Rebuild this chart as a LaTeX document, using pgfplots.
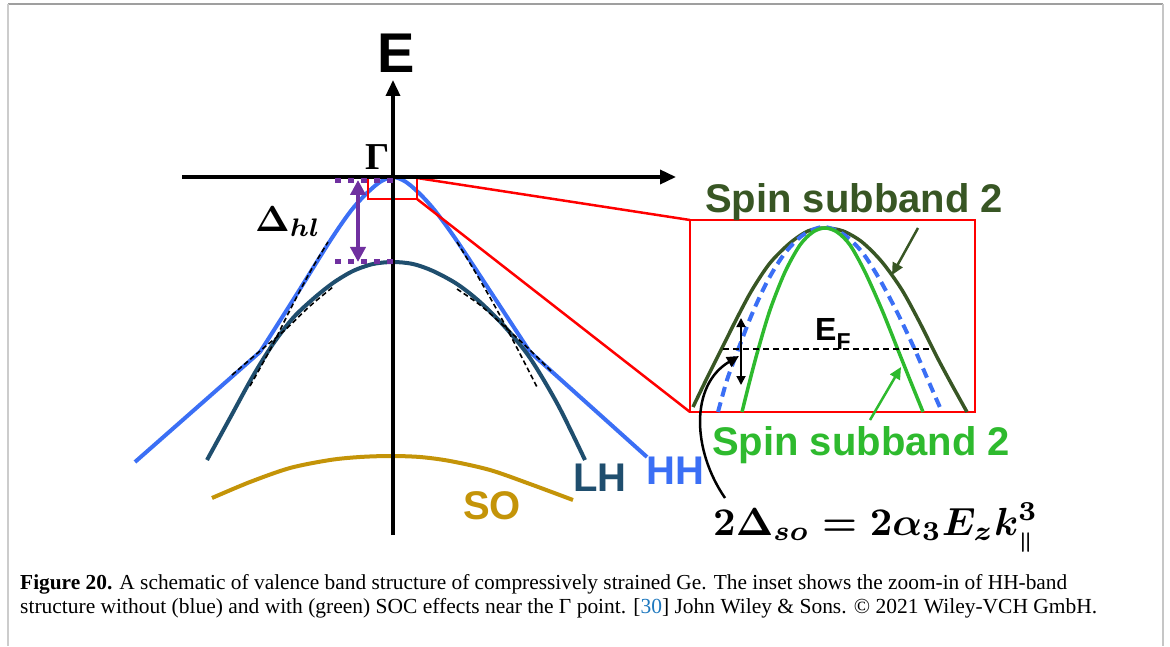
\documentclass[border=0pt]{standalone}
\usepackage{pgfplots}
\pgfplotsset{compat=1.18}
\usepackage{graphicx}
\usepackage{fontspec}
\setmainfont{Liberation Serif}
\newfontfamily\arial{Liberation Sans}
\usetikzlibrary{arrows.meta}

\definecolor{hhblue}{RGB}{59,111,245}
\definecolor{lhblue}{RGB}{31,78,110}
\definecolor{sogold}{RGB}{196,148,8}
\definecolor{dkgreen}{RGB}{56,86,36}
\definecolor{brgreen}{RGB}{46,186,46}
\definecolor{dpurple}{RGB}{112,48,160}
\definecolor{linkblue}{RGB}{30,120,190}

\begin{document}
\begin{tikzpicture}
\begin{axis}[
  scale only axis, width=1170pt, height=646pt,
  xmin=0, xmax=1170, ymin=0, ymax=646, y dir=reverse,
  hide axis, clip=false]

% frame
\draw[gray!75, line width=1.2pt] (8,4) -- (1163,4);
\draw[gray!40, line width=2pt] (8,4) -- (8,646);
\draw[gray!45, line width=1.5pt] (1163,4) -- (1163,646);

% bands
\addplot[hhblue, line width=4pt] coordinates {(135,462) (260,352)};
\addplot[hhblue, line width=4pt, smooth] coordinates {
  (260,352) (295,297) (330,241) (350,212) (365,195) (380,182) (393,177)
  (406,182) (421,195) (436,212) (457,241) (494,297) (530,352)};
\addplot[hhblue, line width=4pt] coordinates {(530,352) (647,457)};

\addplot[lhblue, line width=4pt, smooth] coordinates {
  (207,460) (230,418) (253,376) (273,344) (293,318) (313,299) (333,283)
  (353,271) (373,264) (393,262) (413,264) (433,271) (457,284) (480,302)
  (505,327) (530,358) (558,405) (585,460)};

\addplot[sogold, line width=4pt, smooth] coordinates {
  (212,498) (250,482) (290,468) (330,460) (360,457) (390,456) (420,457)
  (450,461) (490,470) (530,484) (573,500)};

% dashed unperturbed bands
\addplot[black, line width=1.6pt, dash pattern=on 5pt off 3pt, smooth] coordinates {
  (232,375) (260,351) (285,330) (310,306) (333,287)};
\addplot[black, line width=1.6pt, dash pattern=on 5pt off 3pt, smooth] coordinates {
  (250,386) (270,350) (290,310) (310,272) (328,242)};
\addplot[black, line width=1.6pt, dash pattern=on 5pt off 3pt, smooth] coordinates {
  (457,289) (480,305) (505,327) (530,350) (553,373)};
\addplot[black, line width=1.6pt, dash pattern=on 5pt off 3pt, smooth] coordinates {
  (457,242) (477,275) (497,310) (517,348) (537,387)};

% red zoom box and lines
\draw[red, line width=2.5pt] (368,178) rectangle (417,199);
\draw[red, line width=2.5pt] (417,178) -- (690,220);
\draw[red, line width=2.5pt] (417,199) -- (690,412);
\draw[red, line width=2.5pt] (690,220) rectangle (975,412);

% axes
\draw[black, line width=3.5pt, -{Triangle[length=16pt,width=14pt]}] (182,177) -- (676,177);
\draw[black, line width=3.5pt, -{Triangle[length=16pt,width=14pt]}] (393,535) -- (393,80);
\node[anchor=base, inner sep=0] at (396,73) {\arial\bfseries\fontsize{56}{56}\selectfont E};
\node[anchor=base, inner sep=0] at (378,170) {\bfseries\fontsize{38}{38}\selectfont Γ};

% Delta_hl
\draw[dpurple, line width=5pt, dash pattern=on 6pt off 7pt] (335,181) -- (393,181);
\draw[dpurple, line width=5pt, dash pattern=on 6pt off 7pt] (335,261) -- (393,261);
\draw[dpurple, line width=4pt, {Triangle[length=15pt,width=15pt]}-{Triangle[length=15pt,width=15pt]}] (358,180) -- (358,262);
\node[anchor=base west, inner sep=0] at (255,231) {\resizebox{66pt}{!}{\boldmath$\Delta_{hl}$}};

% inset curves
\addplot[dkgreen, line width=3.5pt, smooth] coordinates {
  (693,407) (707,378) (722,348) (737,318) (752,290) (770,263) (790,243)
  (808,231) (825,228) (843,231) (862,242) (882,262) (902,290) (920,323)
  (937,357) (952,385) (967,412)};
\addplot[hhblue, line width=4pt, dash pattern=on 10pt off 6pt, smooth] coordinates {
  (718,412) (727,380) (738,350) (752,314) (768,280) (785,253) (803,235)
  (823,227) (843,234) (862,252) (880,280) (898,314) (915,350) (928,380)
  (942,412)};
\addplot[brgreen, line width=3.5pt, smooth] coordinates {
  (742,412) (750,380) (758,350) (770,310) (785,272) (800,245) (813,232)
  (825,228) (837,232) (850,245) (865,272) (882,310) (898,350) (910,380)
  (923,412)};
\draw[black, line width=1.5pt, dash pattern=on 6pt off 4pt] (723,349) -- (932,349);
\draw[black, line width=1.8pt, {Triangle[length=9pt,width=9pt]}-{Triangle[length=9pt,width=9pt]}] (741,318) -- (741,385);
\node[anchor=base west, inner sep=0] at (815,340) {\arial\bfseries\fontsize{32}{32}\selectfont E\raisebox{-9pt}{\fontsize{23}{23}\selectfont F}};

% inset arrows and labels
\draw[dkgreen, line width=2.5pt, -{Triangle[length=12pt,width=11pt]}] (918,228) -- (892,275);
\draw[brgreen, line width=2.5pt, -{Triangle[length=12pt,width=11pt]}] (870,420) -- (901,367);
\draw[black, line width=2.5pt, -{Triangle[length=12pt,width=11pt]}] (725,498) .. controls (692,450) and (690,385) .. (739,356);
\node[anchor=base west, inner sep=0, dkgreen] at (705,213) {\arial\bfseries\fontsize{40}{40}\selectfont Spin subband 2};
\node[anchor=base west, inner sep=0, brgreen] at (712,455) {\arial\bfseries\fontsize{40}{40}\selectfont Spin subband 2};
\node[anchor=base west, inner sep=0] at (713,535) {\resizebox{325pt}{!}{\boldmath$2\Delta_{so}=2\alpha_3E_zk_{\scriptscriptstyle\|}^3$}};

% band labels
\node[anchor=base west, inner sep=0, lhblue] at (573,491) {\arial\bfseries\fontsize{40}{40}\selectfont LH};
\node[anchor=base west, inner sep=0, hhblue] at (646,484) {\arial\bfseries\fontsize{40}{40}\selectfont HH};
\node[anchor=base west, inner sep=0, sogold] at (463,519) {\arial\bfseries\fontsize{40}{40}\selectfont SO};

% caption
\node[anchor=base west, inner sep=0] at (20,589) {\resizebox{1047pt}{!}{\fontsize{19}{23}\selectfont \textbf{Figure 20.} A schematic of valence band structure of compressively strained Ge. The inset shows the zoom-in of HH-band}};
\node[anchor=base west, inner sep=0] at (20,613) {\resizebox{1077pt}{!}{\fontsize{19}{23}\selectfont structure without (blue) and with (green) SOC effects near the Γ point. [\textcolor{linkblue}{30}] John Wiley \& Sons. © 2021 Wiley-VCH GmbH.}};

\path[use as bounding box] (0,0) rectangle (1170,646);
\end{axis}
\end{tikzpicture}
\end{document}
